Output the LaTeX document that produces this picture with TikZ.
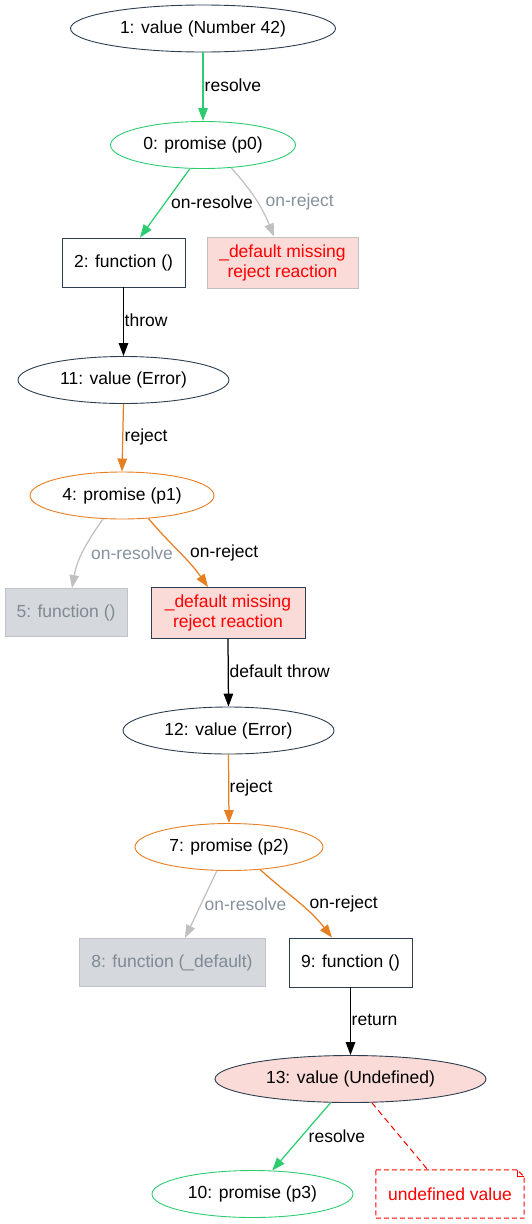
\documentclass[tikz,border=0pt]{standalone}
\usepackage{fontspec}
\setmainfont{Liberation Sans}
\usetikzlibrary{shapes.geometric,arrows.meta,calc}
\definecolor{dark}{HTML}{2C3E50}
\definecolor{grn}{HTML}{2ECC71}
\definecolor{org}{HTML}{E67E22}
\definecolor{edgegray}{HTML}{C0C0C0}
\definecolor{lblgray}{HTML}{85929E}
\definecolor{boxgray}{HTML}{D5D8DC}
\definecolor{boxgrayline}{HTML}{BFC4C8}
\definecolor{txtgray}{HTML}{7F8A93}
\definecolor{pink}{HTML}{FADBD8}
\definecolor{redtxt}{HTML}{FF0000}
\tikzset{
  every node/.style={font=\fontsize{17.5}{20}\selectfont, inner sep=0pt},
  ell/.style={ellipse, draw=dark, line width=0.9pt, minimum height=47pt},
  fbox/.style={rectangle, draw=dark, line width=0.9pt, minimum height=49pt},
  graybox/.style={rectangle, draw=boxgrayline, fill=boxgray, text=txtgray, line width=0.9pt, minimum height=48pt},
  missbox/.style={rectangle, fill=pink, text=redtxt, line width=0.9pt, minimum height=51pt, align=center},
  lbl/.style={anchor=west, inner sep=0pt},
  glbl/.style={anchor=west, inner sep=0pt, text=lblgray},
  edge/.style={line width=1.25pt, -{Triangle[length=13pt,width=9.5pt]}},
}
\begin{document}
\begin{tikzpicture}[x=1pt,y=1pt]
\useasboundingbox (0,0) rectangle (531,-1224);
% nodes
\node[ell, minimum width=265pt] (n1) at (203,-28.5) {1: value (Number 42)};
\node[ell, draw=grn, minimum width=185pt] (n0) at (203,-145) {0: promise (p0)};
\node[fbox, minimum width=123pt] (n2) at (123.5,-262.5) {2: function ()};
\node[missbox, draw=edgegray, minimum width=151pt] (d1) at (282.5,-262.5) {\_default missing\\reject reaction};
\node[ell, minimum width=211pt] (n11) at (123.5,-380) {11: value (Error)};
\node[ell, draw=org, minimum width=184pt] (n4) at (122,-495.5) {4: promise (p1)};
\node[graybox, minimum width=122pt] (n5) at (66,-612.5) {5: function ()};
\node[missbox, draw=dark, minimum width=154pt] (d2) at (228,-613) {\_default missing\\reject reaction};
\node[ell, minimum width=211pt] (n12) at (228.5,-730.5) {12: value (Error)};
\node[ell, draw=org, minimum width=188pt] (n7) at (229,-847) {7: promise (p2)};
\node[graybox, minimum width=186pt] (n8) at (172,-962.5) {8: function (\_default)};
\node[fbox, minimum width=123pt] (n9) at (350.5,-962.5) {9: function ()};
\node[ell, fill=pink, minimum width=271pt] (n13) at (350.5,-1079) {13: value (Undefined)};
\node[ell, draw=grn, minimum width=201pt] (n10) at (252.5,-1194) {10: promise (p3)};
\node[rectangle, text=redtxt, minimum width=148pt, minimum height=48pt] (note) at (450,-1194) {undefined value};
\draw[redtxt, line width=1pt, dash pattern=on 5pt off 3pt]
  (note.north west) -- ($(note.north east)+(-7,0)$) -- ($(note.north east)+(0,-7)$)
  -- (note.south east) -- (note.south west) -- cycle;
\draw[redtxt, line width=1pt]
  ($(note.north east)+(-7,0)$) -- ($(note.north east)+(-7,-7)$) -- ($(note.north east)+(0,-7)$);
% edges
\draw[edge, grn] (n1.south) -- (n0.north);
\draw[edge, grn] (n0.-119) -- ($(n2.north)+(16.5,0)$);
\draw[edge, edgegray] (n0.-39) to[out=-48,in=112] ($(d1.north)+(-8.5,0)$);
\draw[edge, black] (n2.south) -- (n11.north);
\draw[edge, org] (n11.south) -- (n4.north);
\draw[edge, edgegray] (n4.-129) to[out=-125,in=80] ($(n5.north)+(6,0)$);
\draw[edge, org] (n4.-41.5) to[out=-50,in=125] ($(d2.north)+(-20,0)$);
\draw[edge, black] (d2.south) -- (n12.north);
\draw[edge, org] (n12.south) -- (n7.north);
\draw[edge, edgegray] (n7.-117) -- ($(n8.north)+(13,0)$);
\draw[edge, org] (n7.-36) to[out=-42,in=128] ($(n9.north)+(-18.5,0)$);
\draw[edge, black] (n9.south) -- (n13.north);
\draw[edge, grn] (n13.-130) -- (n10.50);
\draw[redtxt, line width=1pt, dash pattern=on 6pt off 4pt] (n13.-48.5) -- ($(note.north west)+(52,0)$);
% labels
\node[lbl] (l1) at (204.5,-85) {resolve};
\node[lbl] (l2) at (171,-202) {on-resolve};
\node[glbl] (l3) at (265.5,-202) {on-reject};
\node[lbl] (l4) at (124.5,-320) {throw};
\node[lbl] (l5) at (124.5,-437) {reject};
\node[glbl] (l6) at (91,-553) {on-resolve};
\node[lbl] (l7) at (190,-553) {on-reject};
\node[lbl] (l8) at (229.5,-671) {default throw};
\node[lbl] (l9) at (229.5,-787.5) {reject};
\node[glbl] (l10) at (204.5,-904) {on-resolve};
\node[lbl] (l11) at (309.5,-904) {on-reject};
\node[lbl] (l12) at (351.5,-1020) {return};
\node[lbl] (l13) at (308.5,-1136) {resolve};
\end{tikzpicture}
\end{document}
